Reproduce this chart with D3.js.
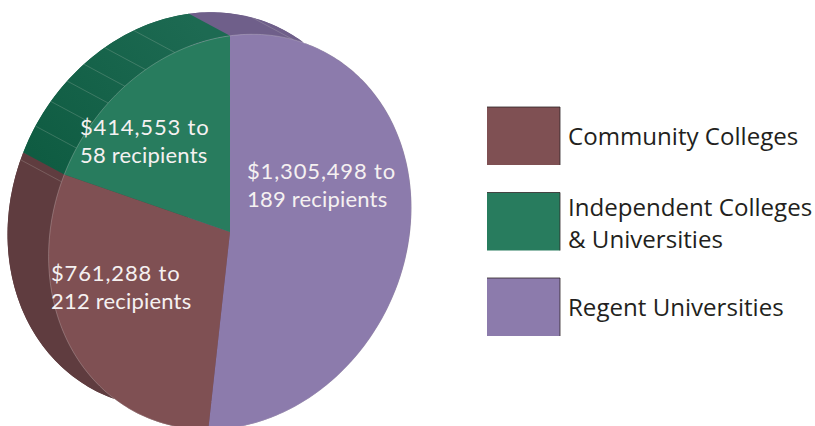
<!DOCTYPE html>
<html>
<head>
<meta charset="utf-8">
<script src="https://cdn.jsdelivr.net/npm/d3@7"></script>
<style>
  html, body { margin: 0; padding: 0; background: #fff; overflow: hidden; }
  .slice-label { font-family: Lato, sans-serif; font-size: 22px; font-weight: 400; fill: #f5f1f1; }
  .legend-label { font-family: "Open Sans", sans-serif; font-size: 24.1px; fill: #231f20; }
</style>
</head>
<body>
<script>
const categories = ['Regent Universities', 'Community Colleges', 'Independent Colleges'];
const amounts = [1305498, 761288, 414553];
const recipients = [189, 212, 58];
const faceColors = ['#8c7bac', '#7f5053', '#287c5e'];
const rimColors = ['#6f5f8a', '#5f3c3f', 'url(#greenRim)'];

// where the slice boundaries land on the tilted face, in degrees
const faceBoundaries = [0, 186.9, 294, 360];
// pale facet lines on the rim, in face degrees
const rimFacets = [20.4, 291.8, 302.2, 310.4, 317.8, 324.6, 332.3, 342.3];

const legendRows = [
  { name: categories[1], lines: ['Community Colleges'], color: faceColors[1] },
  { name: categories[2], lines: ['Independent Colleges', '& Universities'], color: faceColors[2] },
  { name: categories[0], lines: ['Regent Universities'], color: faceColors[0] },
];

const fmt = d3.format('$,');
const width = 815;
const height = 426;
const rad = Math.PI / 180;

// unit circle -> tilted face
const tilt = { a: 181.4, b: -24.4, c: 0, d: 196.2, e: 230, f: 232 };
const depth = { x: -41, y: -22 };

const svg = d3.select('body').append('svg')
  .attr('width', width)
  .attr('height', height)
  .style('display', 'block');

const gradient = svg.append('defs').append('linearGradient')
  .attr('id', 'greenRim')
  .attr('gradientUnits', 'userSpaceOnUse')
  .attr('x1', 30).attr('y1', 150)
  .attr('x2', 190).attr('y2', 15);
gradient.append('stop').attr('offset', 0).attr('stop-color', '#0f5c42');
gradient.append('stop').attr('offset', 1).attr('stop-color', '#1d6a52');

const pie = d3.pie().sort(null).value(d => d)(amounts);
const total = d3.sum(amounts);

// turns the share of the total into an angle on the face
const shareToAngle = d3.scaleLinear()
  .domain([0, amounts[0] / total, (amounts[0] + amounts[1]) / total, 1])
  .range(faceBoundaries);

const slices = pie.map((d, i) => ({
  i,
  start: shareToAngle(d.startAngle / (2 * Math.PI)),
  end: shareToAngle(d.endAngle / (2 * Math.PI)),
}));

const matrix = `matrix(${tilt.a},${tilt.b},${tilt.c},${tilt.d},${tilt.e},${tilt.f})`;
const arc = d3.arc().innerRadius(0).outerRadius(1);

const facePoint = (deg) => {
  const u = Math.sin(deg * rad);
  const v = -Math.cos(deg * rad);
  return [tilt.a * u + tilt.c * v + tilt.e, tilt.b * u + tilt.d * v + tilt.f];
};
const backPoint = (deg) => {
  const p = facePoint(deg);
  return [p[0] + depth.x, p[1] + depth.y];
};
const sweep = (s) => d3.range(s.start, s.end, 1).concat(s.end);
const line = d3.line();

const arcPath = s => arc({ startAngle: s.start * rad, endAngle: s.end * rad });

// back face
svg.append('g').selectAll('path')
  .data(slices)
  .enter().append('path')
  .attr('transform', `translate(${depth.x},${depth.y}) ${matrix}`)
  .attr('fill', d => rimColors[d.i])
  .attr('d', arcPath);

// rim between back and front
svg.append('g').selectAll('path')
  .data(slices)
  .enter().append('path')
  .attr('fill', d => rimColors[d.i])
  .attr('d', d => line(sweep(d).map(facePoint).concat(sweep(d).reverse().map(backPoint))) + 'Z');

svg.append('g').selectAll('line')
  .data(rimFacets)
  .enter().append('line')
  .attr('x1', d => facePoint(d)[0])
  .attr('y1', d => facePoint(d)[1])
  .attr('x2', d => backPoint(d)[0])
  .attr('y2', d => backPoint(d)[1])
  .attr('stroke', '#d9d9d0')
  .attr('stroke-opacity', 0.35)
  .attr('stroke-width', 0.6);

// front face
svg.append('g').selectAll('path')
  .data(slices)
  .enter().append('path')
  .attr('transform', matrix)
  .attr('fill', d => faceColors[d.i])
  .attr('d', arcPath);

svg.append('g').selectAll('path')
  .data(slices)
  .enter().append('path')
  .attr('fill', 'none')
  .attr('stroke', '#e6e0e0')
  .attr('stroke-opacity', 0.45)
  .attr('stroke-width', 0.6)
  .attr('d', d => line(sweep(d).map(facePoint)));

// slice labels
const labelSpots = [
  { x: 247, y: 179 },
  { x: 51, y: 281 },
  { x: 80, y: 135 },
];
const labels = svg.append('g').selectAll('text')
  .data(slices)
  .enter().append('text')
  .attr('class', 'slice-label')
  .attr('x', d => labelSpots[d.i].x)
  .attr('y', d => labelSpots[d.i].y);
labels.append('tspan')
  .attr('letter-spacing', 0.85)
  .text(d => `${fmt(amounts[d.i])} to`);
labels.append('tspan')
  .attr('x', d => labelSpots[d.i].x)
  .attr('dy', 27.5)
  .attr('letter-spacing', 0.2)
  .text(d => `${recipients[d.i]} recipients`);

// legend
const legendY = d3.scalePoint()
  .domain(legendRows.map(d => d.name))
  .range([107, 278]);
const legend = svg.append('g').selectAll('g')
  .data(legendRows)
  .enter().append('g')
  .attr('transform', d => `translate(487,${legendY(d.name)})`);
legend.append('rect')
  .attr('width', 73)
  .attr('height', 58)
  .attr('fill', d => d.color);
legend.append('path')
  .attr('d', 'M0,0H73V58')
  .attr('fill', 'none')
  .attr('stroke', '#2e2527')
  .attr('stroke-width', 0.8);
legend.append('text')
  .attr('class', 'legend-label')
  .attr('x', 81)
  .attr('y', d => (d.lines.length > 1 ? 23 : 38))
  .selectAll('tspan')
  .data(d => d.lines)
  .enter().append('tspan')
  .attr('x', 81)
  .attr('dy', (d, i) => (i ? 32 : 0))
  .text(d => d);
</script>
</body>
</html>
